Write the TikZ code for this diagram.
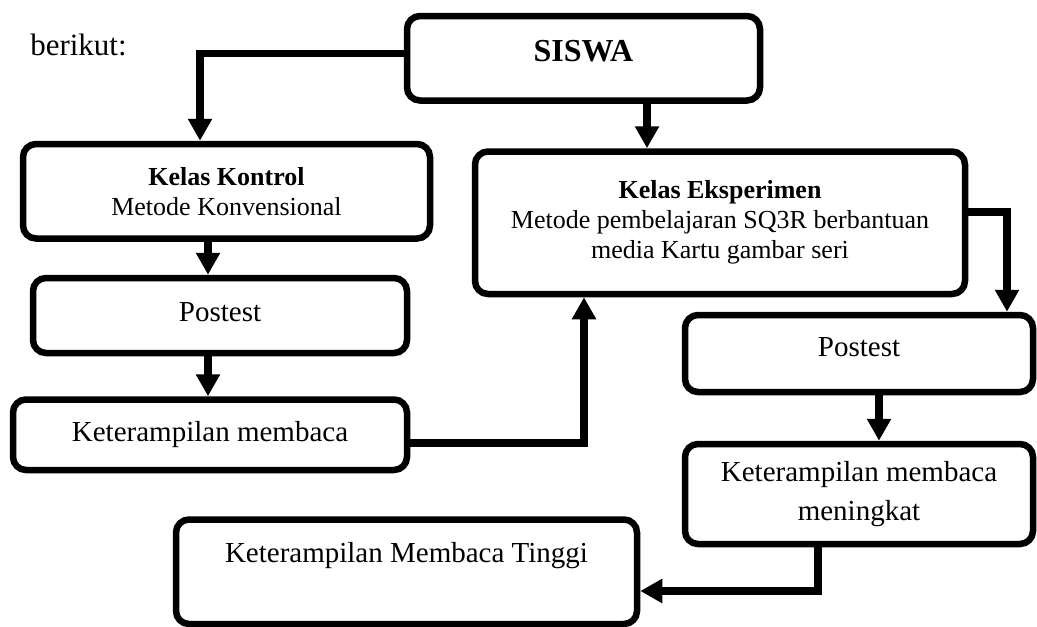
\documentclass[tikz,border=0pt]{standalone}
\usepackage{fontspec}
\setmainfont{Liberation Serif}
\usetikzlibrary{arrows.meta}

\begin{document}
\begin{tikzpicture}[
  x=1pt, y=-1pt,
  box/.style   = {draw, line width=6.5pt, rounded corners=13pt, align=center, inner sep=0pt},
  fbig/.style  = {font=\fontsize{32}{36}\selectfont\bfseries},
  fmid/.style  = {font=\fontsize{29}{39}\selectfont},
  fsml/.style  = {font=\fontsize{26}{30}\selectfont},
  flow/.style  = {line width=7.5pt, -{Triangle[length=22pt,width=23pt]}},
]
\useasboundingbox (0,0) rectangle (1037,627);

% --- top -----------------------------------------------------------------
\node[anchor=base, font=\fontsize{31}{35}\selectfont] (intro) at (78.5,55) {berikut:};
\node[box, fbig, minimum width=353pt, minimum height=84.5pt,
      text height=22pt, text depth=16.4pt] (siswa) at (583.5,58.25) {SISWA};

% --- left column (kontrol) -----------------------------------------------
\node[box, fsml, minimum width=407pt, minimum height=94.5pt] (kontrol) at (226.5,191.25) {%
  \textbf{Kelas Kontrol}\\Metode Konvensional};
\node[box, fmid, minimum width=374pt, minimum height=75pt,
      text height=20pt, text depth=7.8pt] (post1) at (220,315.5) {Postest};
\node[box, fmid, minimum width=394pt, minimum height=70.5pt,
      text height=20pt, text depth=6.8pt] (baca1) at (210,434.75) {Keterampilan membaca};

% --- right column (eksperimen) -------------------------------------------
\node[box, fsml, minimum width=490pt, minimum height=142.5pt] (eksp) at (720,222.75) {%
  \textbf{Kelas Eksperimen}\\Metode pembelajaran SQ3R berbantuan\\media Kartu gambar seri};
\node[box, fmid, minimum width=348pt, minimum height=77pt,
      text height=20pt, text depth=13.8pt] (post2) at (859,353.5) {Postest};
\node[box, fmid, minimum width=348pt, minimum height=100pt] (baca2) at (859,494) {%
  Keterampilan membaca\\meningkat};

% --- result --------------------------------------------------------------
\node[box, fmid, minimum width=461pt, minimum height=104.5pt,
      text height=20pt, text depth=38.3pt] (tinggi) at (406.5,571.75) {Keterampilan Membaca Tinggi};

% --- connectors ----------------------------------------------------------
\draw[flow] ([yshift=5pt]siswa.west) -| ([xshift=-26.5pt]kontrol.north);
\draw[flow] ([xshift=63.5pt]siswa.south) -- ([xshift=63.5pt]siswa.south |- eksp.north);
\draw[flow] ([xshift=-12pt]post1.north |- kontrol.south) -- ([xshift=-12pt]post1.north);
\draw[flow] ([xshift=-12pt]post1.south) -- ([xshift=-12pt]post1.south |- baca1.north);
\draw[flow] ([yshift=-8pt]baca1.east) -| ([xshift=-136pt]eksp.south);
\draw[flow] ([yshift=10.75pt]eksp.east) -| ([xshift=148pt]post2.north);
\draw[flow] ([xshift=20pt]post2.south) -- ([xshift=20pt]post2.south |- baca2.north);
\draw[flow] ([xshift=-41pt]baca2.south) |- ([yshift=-19.25pt]tinggi.east);

\end{tikzpicture}
\end{document}
